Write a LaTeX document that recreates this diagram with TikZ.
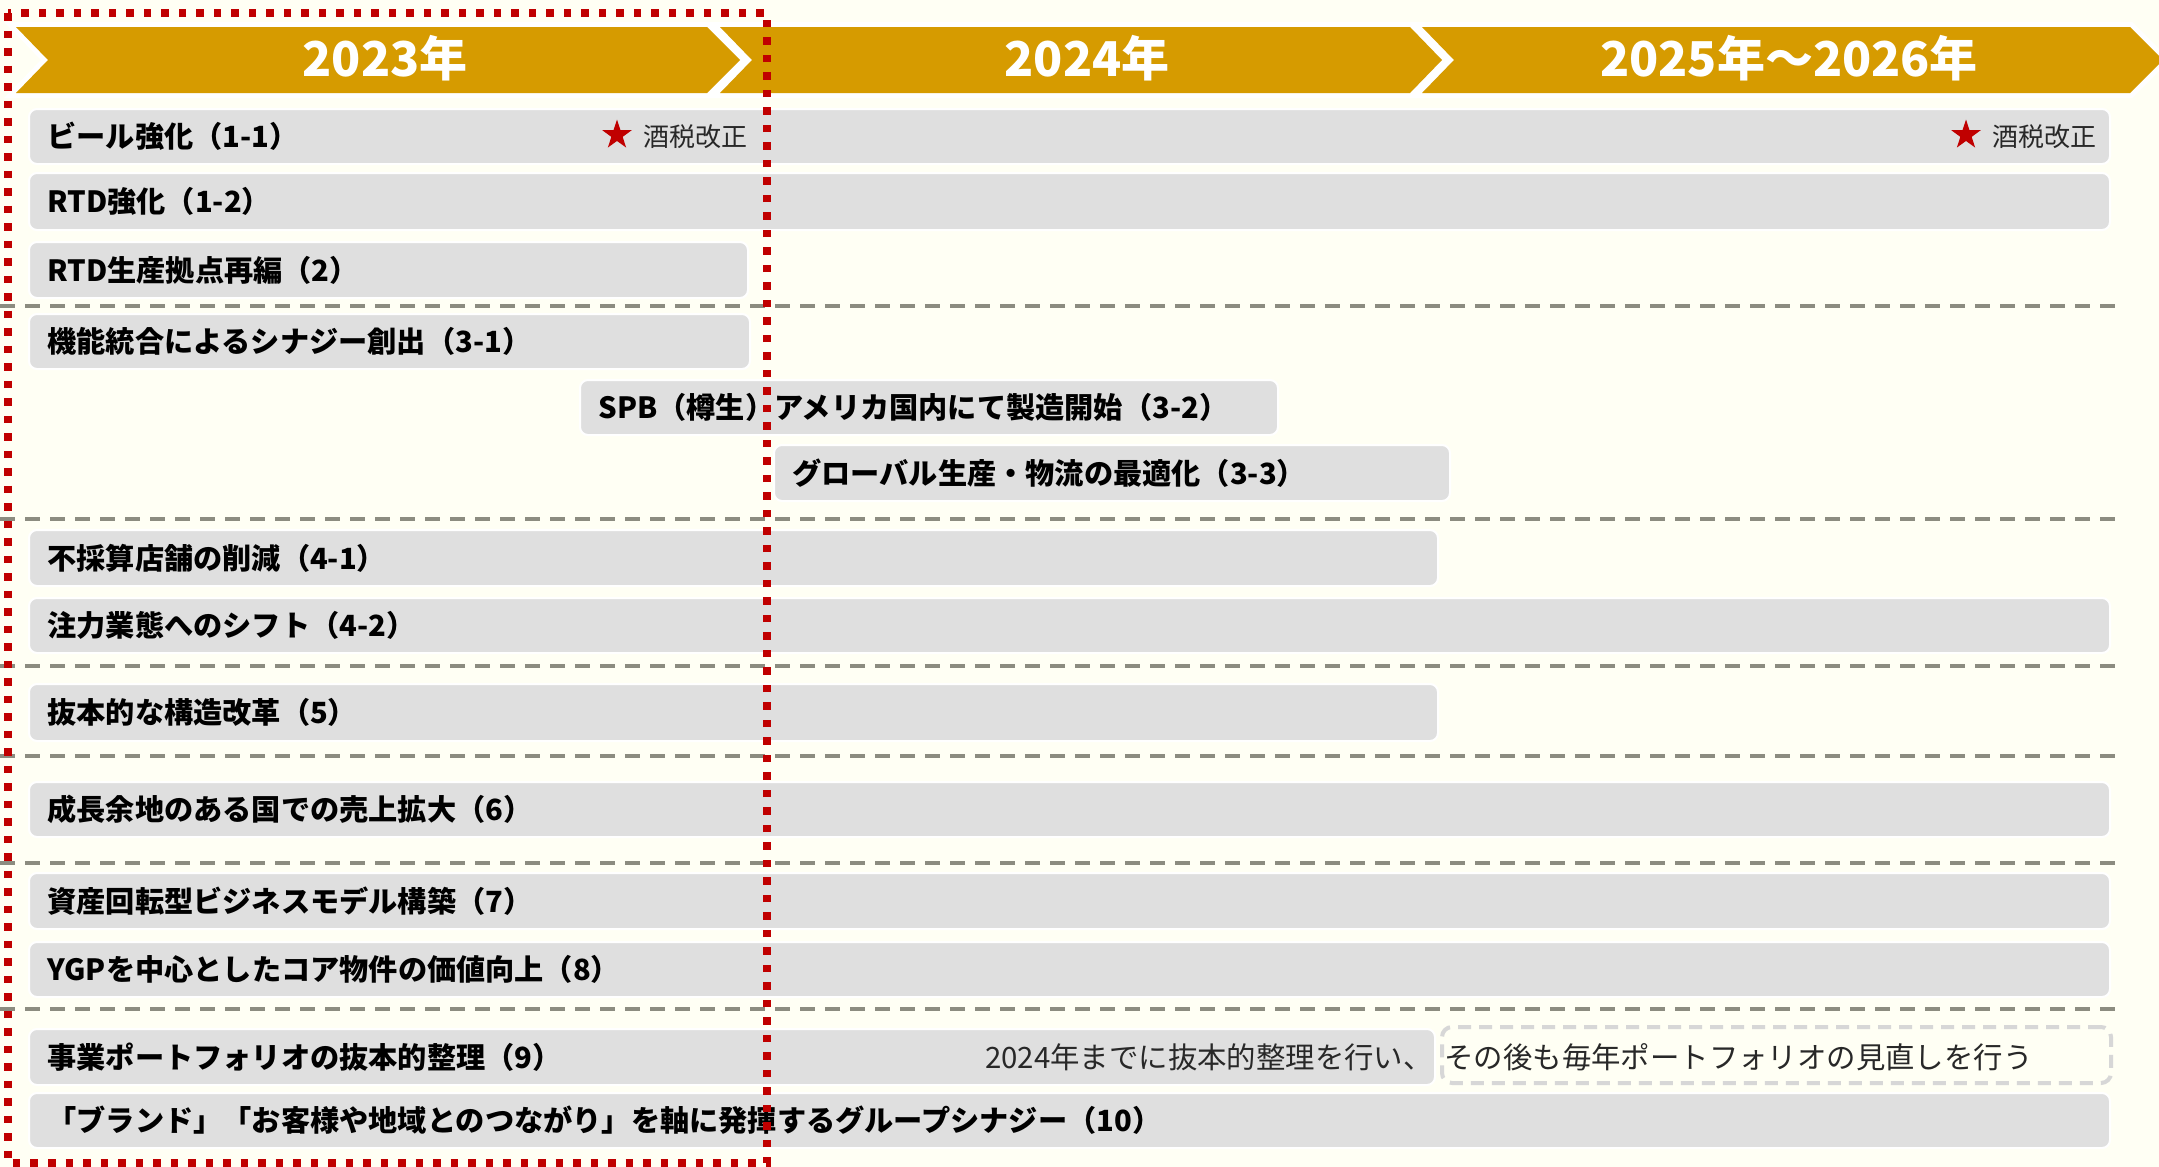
\documentclass[tikz,border=0pt]{standalone}
\usepackage{fontspec}
\setmainfont{Noto Sans CJK JP}
\usetikzlibrary{shapes.geometric}
\definecolor{bgivory}{RGB}{255,255,244}
\definecolor{gold}{RGB}{214,155,0}
\definecolor{bargray}{RGB}{223,223,223}
\definecolor{sepgray}{RGB}{140,140,128}
\definecolor{boxgray}{RGB}{215,215,215}
\definecolor{redline}{RGB}{192,0,0}
\definecolor{txtdark}{RGB}{40,40,40}
\tikzset{
  gbarsty/.style={fill=bargray, draw=white, line width=1pt, rounded corners=4pt, inner sep=0pt, outer sep=0pt},
  rowtext/.style={anchor=west, inner sep=0pt, font=\fontsize{14.6}{17}\selectfont\bfseries, text=black},
  yeartext/.style={inner sep=0pt, font=\fontsize{24}{28}\selectfont\bfseries, text=white},
  taxtext/.style={anchor=west, inner sep=0pt, font=\fontsize{13}{15}\selectfont, text=txtdark},
  notetext/.style={inner sep=0pt, font=\fontsize{14.7}{17}\selectfont, text=txtdark},
  redstar/.style={star, star points=5, star point ratio=2.6, fill=redline, minimum size=15.5pt, inner sep=0pt},
  sepline/.style={draw=sepgray, line width=1.6pt, dash pattern=on 7.5pt off 5pt},
  reddots/.style={draw=redline, line width=3.75pt, dash pattern=on 3.75pt off 5pt},
  dashbox/.style={draw=boxgray, line width=2pt, dash pattern=on 6.5pt off 4pt, rounded corners=5pt},
}
\newcommand\gbar[5]{\node[gbarsty, minimum width={(#4-#2)*0.5pt}, minimum height={(#5-#3)*0.5pt}] (#1) at ({(#2+#4)/2},{(#3+#5)/2}) {};}
\begin{document}
\begin{tikzpicture}[x=0.5pt,y=-0.5pt]
\fill[bgivory] (0,0) rectangle (2159,1167);
\useasboundingbox (0,0) rectangle (2159,1167);

% separators
\foreach \yy/\nm in {306/a,519/b,666/c,756/d,863/e,1009/f}{
  \coordinate (sepL\nm) at (0,\yy);
  \coordinate (sepR\nm) at (2121,\yy);
  \draw[sepline] (sepL\nm) -- (sepR\nm);
}

% bars
\gbar{r1}{29}{109}{2110}{164}
\gbar{r2}{29}{173}{2110}{230}
\gbar{r3}{29}{242}{748}{298}
\gbar{r4}{29}{314}{750}{369}
\gbar{r5}{580}{380}{1278}{435}
\gbar{r6}{774}{445}{1450}{501}
\gbar{r7}{29}{530}{1438}{586}
\gbar{r8}{29}{598}{2110}{653}
\gbar{r9}{29}{684}{1438}{741}
\gbar{r10}{29}{782}{2110}{837}
\gbar{r11}{29}{873}{2110}{929}
\gbar{r12}{29}{942}{2110}{997}
\gbar{r13}{29}{1029}{1435}{1085}
\gbar{r14}{29}{1093}{2110}{1148}
\node[dashbox, inner sep=0pt, minimum width={(2111-1442)*0.5pt}, minimum height={(1083-1027)*0.5pt}] (r13b) at ({(2111+1442)/2},{(1083+1027)/2}) {};

% row texts
\node[rowtext] (t1) at ([xshift=9pt]r1.west) {ビール強化（1-1）};
\node[rowtext] (t2) at ([xshift=9pt]r2.west) {RTD強化（1-2）};
\node[rowtext] (t3) at ([xshift=9pt]r3.west) {RTD生産拠点再編（2）};
\node[rowtext] (t4) at ([xshift=9pt]r4.west) {機能統合によるシナジー創出（3-1）};
\node[rowtext] (t5) at ([xshift=9pt]r5.west) {SPB（樽生）アメリカ国内にて製造開始（3-2）};
\node[rowtext] (t6) at ([xshift=9pt]r6.west) {グローバル生産・物流の最適化（3-3）};
\node[rowtext] (t7) at ([xshift=9pt]r7.west) {不採算店舗の削減（4-1）};
\node[rowtext] (t8) at ([xshift=9pt]r8.west) {注力業態へのシフト（4-2）};
\node[rowtext] (t9) at ([xshift=9pt]r9.west) {抜本的な構造改革（5）};
\node[rowtext] (t10) at ([xshift=9pt]r10.west) {成長余地のある国での売上拡大（6）};
\node[rowtext] (t11) at ([xshift=9pt]r11.west) {資産回転型ビジネスモデル構築（7）};
\node[rowtext] (t12) at ([xshift=9pt]r12.west) {YGPを中心としたコア物件の価値向上（8）};
\node[rowtext] (t13) at ([xshift=9pt]r13.west) {事業ポートフォリオの抜本的整理（9）};
\node[rowtext] (t14) at ([xshift=9pt]r14.west) {「ブランド」「お客様や地域とのつながり」を軸に発揮するグループシナジー（10）};

% notes in row 13
\node[notetext, anchor=east] (n1) at (1433,1057) {2024年までに抜本的整理を行い、};
\node[notetext, anchor=west] (n2) at (1444,1057) {その後も毎年ポートフォリオの見直しを行う};

% tax reform marks
\node[redstar] (s1) at (617,135) {};
\node[taxtext] (x1) at (643,137) {酒税改正};
\node[redstar] (s2) at (1966,135) {};
\node[taxtext] (x2) at (1992,137) {酒税改正};

% year band
\foreach \pass in {1,2}{
  \ifnum\pass=1
    \tikzset{bandsty/.style={draw=white, line width=5pt, line join=miter}}
  \else
    \tikzset{bandsty/.style={fill=gold}}
  \fi
  \path[bandsty] (16,27) -- (707,27) -- (740,60) -- (707,93) -- (16,93) -- (48,60) -- cycle;
  \path[bandsty] (720,27) -- (1410,27) -- (1442,60) -- (1410,93) -- (720,93) -- (752,60) -- cycle;
  \path[bandsty] (1422,27) -- (2130,27) -- (2163,60) -- (2130,93) -- (1422,93) -- (1454,60) -- cycle;
}
\node[yeartext] (h1) at (385,58) {2023年};
\node[yeartext] (h2) at (1087,58) {2024年};
\node[yeartext] (h3) at (1789,58) {2025年～2026年};

% red dotted frame
\coordinate (fa) at (8,13);
\coordinate (fb) at (767,1163);
\draw[reddots] (fa) rectangle (fb);
\end{tikzpicture}
\end{document}
